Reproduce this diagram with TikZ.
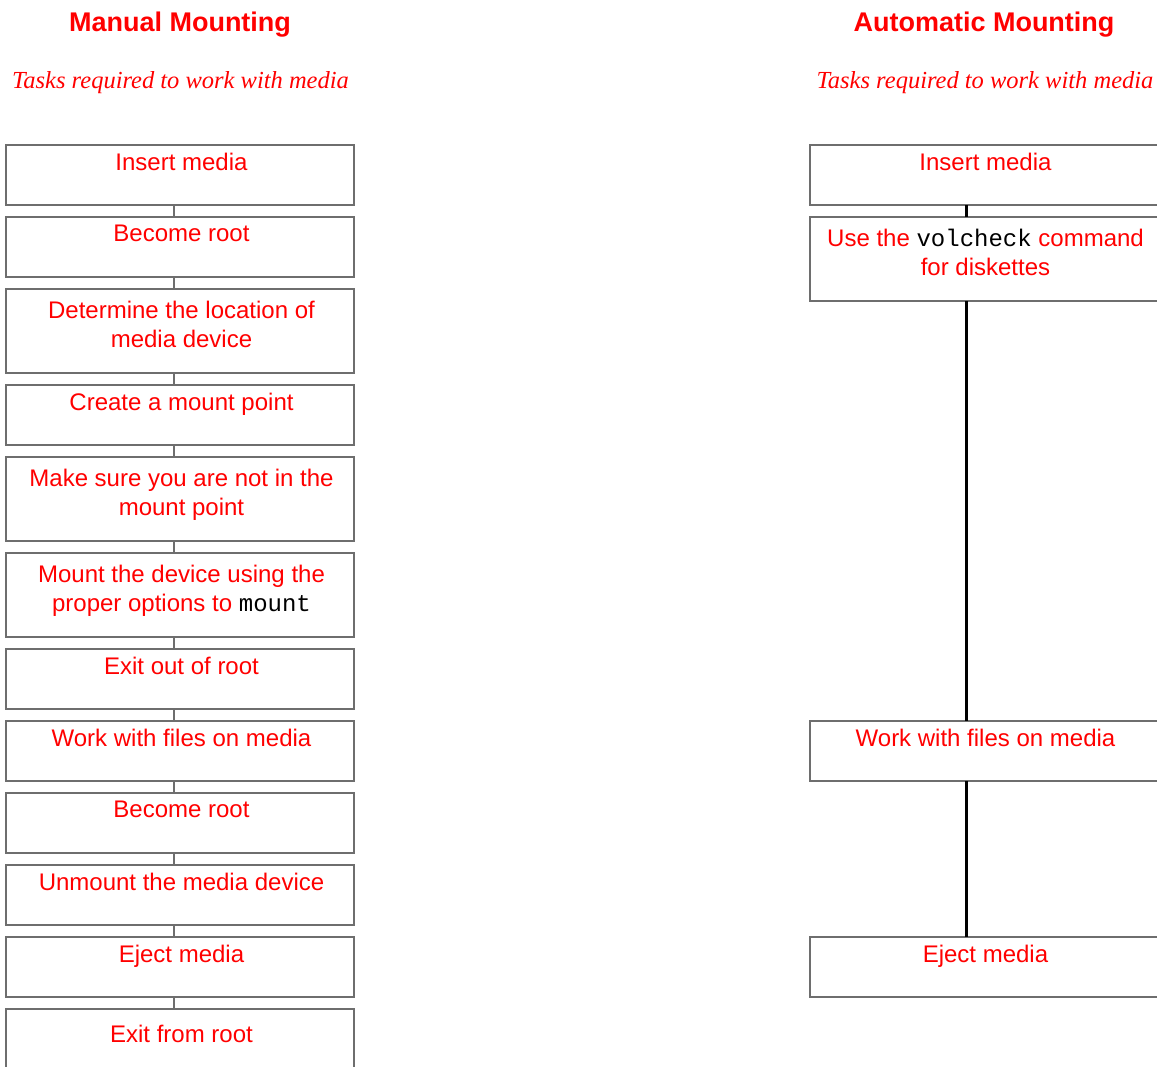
\documentclass[tikz,border=0pt]{standalone}
\usepackage{fontspec}
\setmainfont{Liberation Serif}
\setsansfont{Liberation Sans}
\setmonofont{Liberation Mono}
\usetikzlibrary{positioning}
\definecolor{boxgray}{RGB}{110,110,110}
\newcommand{\cmdname}[1]{{\color{black}\ttfamily #1}}
\tikzset{
  taskbox/.style={draw=boxgray,line width=1.5pt,minimum width=348pt,minimum height=60pt,inner sep=0pt,outer sep=0pt},
  tallbox/.style={taskbox,minimum height=84pt},
  tasktext/.style={text=red,font=\sffamily\fontsize{24}{29}\selectfont,align=center,inner sep=0pt,xshift=1.5pt},
  headtitle/.style={text=red,font=\sffamily\bfseries\fontsize{27}{32}\selectfont,anchor=base,inner sep=0pt},
  headsub/.style={text=red,font=\rmfamily\itshape\fontsize{24.5}{29}\selectfont,anchor=base,inner sep=0pt},
  manualline/.style={draw=boxgray,line width=1.5pt},
  autoline/.style={draw=black,line width=3pt}
}

\begin{document}
\begin{tikzpicture}[x=1pt,y=-1pt]
\useasboundingbox (0,0) rectangle (1157,1066);

% headings
\node[headtitle] (mtitle) at (180,31) {Manual Mounting};
\node[headsub] (msub) at (180.5,88) {Tasks required to work with media};
\node[headtitle] (atitle) at (984,31) {Automatic Mounting};
\node[headsub] (asub) at (985,88) {Tasks required to work with media};

% manual mounting
\node[taskbox] (m1) at (180,175) {};
\node[taskbox,below=12pt of m1] (m2) {};
\node[tallbox,below=12pt of m2] (m3) {};
\node[taskbox,below=12pt of m3] (m4) {};
\node[tallbox,below=12pt of m4] (m5) {};
\node[tallbox,below=12pt of m5] (m6) {};
\node[taskbox,below=12pt of m6] (m7) {};
\node[taskbox,below=12pt of m7] (m8) {};
\node[taskbox,below=12pt of m8] (m9) {};
\node[taskbox,below=12pt of m9] (m10) {};
\node[taskbox,below=12pt of m10] (m11) {};
\node[tallbox,below=12pt of m11] (m12) {};

\node[tasktext,below=8pt of m1.north] (mt1) {Insert media};
\node[tasktext,below=8pt of m2.north] (mt2) {Become root};
\node[tasktext,below=11.5pt of m3.north] (mt3) {Determine the location of\\media device};
\node[tasktext,below=8pt of m4.north] (mt4) {Create a mount point};
\node[tasktext,below=11.5pt of m5.north] (mt5) {Make sure you are not in the\\mount point};
\node[tasktext,below=11.5pt of m6.north] (mt6) {Mount the device using the\\proper options to \cmdname{mount}};
\node[tasktext,below=8pt of m7.north] (mt7) {Exit out of root};
\node[tasktext,below=8pt of m8.north] (mt8) {Work with files on media};
\node[tasktext,below=8pt of m9.north] (mt9) {Become root};
\node[tasktext,below=8pt of m10.north] (mt10) {Unmount the media device};
\node[tasktext,below=8pt of m11.north] (mt11) {Eject media};
\node[tasktext,below=16pt of m12.north] (mt12) {Exit from root};

\draw[manualline] ([xshift=-6pt]m1.south) -- ([xshift=-6pt]m2.north)
      ([xshift=-6pt]m2.south) -- ([xshift=-6pt]m3.north)
      ([xshift=-6pt]m3.south) -- ([xshift=-6pt]m4.north)
      ([xshift=-6pt]m4.south) -- ([xshift=-6pt]m5.north)
      ([xshift=-6pt]m5.south) -- ([xshift=-6pt]m6.north)
      ([xshift=-6pt]m6.south) -- ([xshift=-6pt]m7.north)
      ([xshift=-6pt]m7.south) -- ([xshift=-6pt]m8.north)
      ([xshift=-6pt]m8.south) -- ([xshift=-6pt]m9.north)
      ([xshift=-6pt]m9.south) -- ([xshift=-6pt]m10.north)
      ([xshift=-6pt]m10.south) -- ([xshift=-6pt]m11.north)
      ([xshift=-6pt]m11.south) -- ([xshift=-6pt]m12.north);

% automatic mounting
\node[taskbox] (a1) at (984,175) {};
\node[tallbox,below=12pt of a1] (a2) {};
\node[taskbox] (a3) at (a1 |- m8) {};
\node[taskbox] (a4) at (a1 |- m11) {};

\node[tasktext,below=8pt of a1.north] (at1) {Insert media};
\node[tasktext,below=11.5pt of a2.north] (at2) {Use the \cmdname{volcheck} command\\for diskettes};
\node[tasktext,below=8pt of a3.north] (at3) {Work with files on media};
\node[tasktext,below=8pt of a4.north] (at4) {Eject media};

\draw[autoline] ([xshift=-18pt]a1.south) -- ([xshift=-18pt]a2.north)
      ([xshift=-18pt]a2.south) -- ([xshift=-18pt]a3.north)
      ([xshift=-18pt]a3.south) -- ([xshift=-18pt]a4.north);

\end{tikzpicture}
\end{document}
